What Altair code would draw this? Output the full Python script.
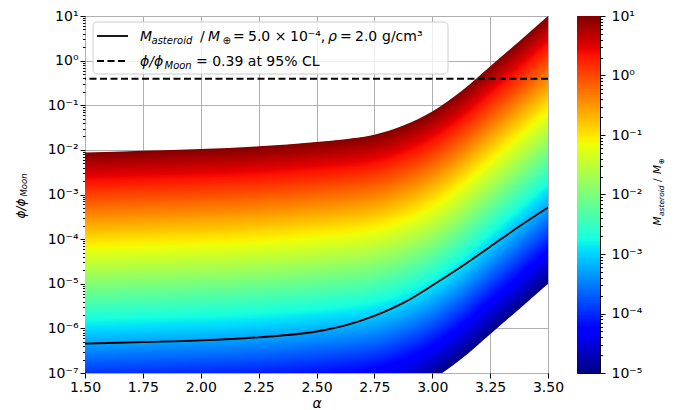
import altair as alt
import numpy as np
import pandas as pd

FONT = "DejaVu Sans"

# ---- values ----
alpha = [1.5, 1.75, 2.0, 2.25, 2.5, 2.625, 2.75, 2.875, 3.0, 3.125, 3.25, 3.375, 3.5]
# upper edge of the band (M_asteroid = 10 M_earth)
phi_top = [8.71e-3, 9.55e-3, 1.047e-2, 1.20e-2, 1.51e-2, 1.74e-2, 2.19e-2, 3.50e-2,
           7.2e-2, 0.205, 0.741, 2.69, 10.0]
# solid curve, M_asteroid = 5e-4 M_earth, rho = 2 g/cm^3
phi_line = [4.57e-7, 4.90e-7, 5.37e-7, 6.31e-7, 8.51e-7, 1.17e-6, 1.91e-6, 3.72e-6,
            9.12e-6, 2.40e-5, 6.76e-5, 1.91e-4, 5.13e-4]
mass_range = [1e-5, 10.0]
phi_limit = 0.39
x_ticks = [1.5, 1.75, 2.0, 2.25, 2.5, 2.75, 3.0, 3.25, 3.5]
y_exp = [-7, 1]
cb_exp = [-5, 1]

# jet colormap stops
jet_t = [0, 0.11, 0.125, 0.34, 0.35, 0.375, 0.64, 0.65, 0.66, 0.89, 0.91, 1.0]
jet_c = ["#000080", "#0000ff", "#0000ff", "#00dbff", "#00e5f7", "#15ffe2",
         "#eeff08", "#f7f500", "#ffec00", "#ff1300", "#e80000", "#800000"]

# ---- derived tables ----
lo, hi = np.log10(mass_range)
N = 160
edges = np.linspace(lo, hi, N + 1)
step = (hi - lo) / N
rows = []
for k in range(N):
    upper = min(edges[k + 1] + 0.6 * step, hi)
    for a, t in zip(alpha, phi_top):
        rows.append({"alpha": a, "lvl": k, "logm": (edges[k] + edges[k + 1]) / 2,
                     "y": t * 10 ** (edges[k] - hi), "y2": t * 10 ** (upper - hi)})
band_df = pd.DataFrame(rows)
line_df = pd.DataFrame({"alpha": alpha, "phi": phi_line})

NC = 240
ce = np.linspace(lo, hi, NC + 1)
cstep = (hi - lo) / NC
cb_df = pd.DataFrame({"y": 10 ** ce[:-1],
                      "y2": 10 ** np.minimum(ce[1:] + 0.6 * cstep, hi),
                      "logm": (ce[:-1] + ce[1:]) / 2})

one = pd.DataFrame({"k": [0]})

cscale = alt.Scale(domain=[lo + t * (hi - lo) for t in jet_t], range=jet_c, interpolate="rgb")

MINOR = "abs(log(datum.value)/LN10 - round(log(datum.value)/LN10)) > 0.01"
SUP = {"-": "⁻", "0": "⁰", "1": "¹", "2": "²", "3": "³", "4": "⁴",
       "5": "⁵", "6": "⁶", "7": "⁷", "8": "⁸", "9": "⁹"}


def log_values(e0, e1):
    return [m * 10.0 ** e for e in range(e0, e1) for m in range(1, 10)] + [10.0 ** e1]


def log_label_expr(e0, e1):
    labs = ["10" + "".join(SUP[c] for c in str(e)) for e in range(e0, e1 + 1)]
    arr = "[" + ",".join("'" + l + "'" for l in labs) + "]"
    return f"{MINOR} ? '' : {arr}[round(log(datum.value)/LN10) - ({e0})]"


def txt(s, x, y, size=14, italic=False, angle=0):
    return alt.Chart(one).mark_text(
        text=s, align="left", baseline="alphabetic", angle=angle, fontSize=size,
        fontStyle="italic" if italic else "normal", font=FONT, color="black"
    ).encode(x=alt.value(x), y=alt.value(y))


W, H = 463, 357
CBW = 23

xscale = alt.Scale(domain=[1.5, 3.5], nice=False, zero=False)
yscale = alt.Scale(type="log", domain=[10.0 ** y_exp[0], 10.0 ** y_exp[1]], nice=False)

xaxis = alt.Axis(values=x_ticks, format=".2f", tickSize=5, labelPadding=2, labelFlush=False,
                 title="α", titleFontStyle="italic", titleFontWeight="normal", titleFontSize=14,
                 titlePadding=2, grid=True)
yaxis = alt.Axis(values=log_values(*y_exp), labelExpr=log_label_expr(*y_exp), title=None,
                 tickSize={"condition": {"test": MINOR, "value": 2.5}, "value": 5},
                 gridOpacity={"condition": {"test": MINOR, "value": 0}, "value": 1},
                 labelPadding=2, labelFlush=False, grid=True)

band = alt.Chart(band_df).mark_area(interpolate="monotone", clip=True).encode(
    x=alt.X("alpha:Q", scale=xscale, axis=xaxis),
    y=alt.Y("y:Q", scale=yscale, axis=yaxis, stack=None),
    y2="y2:Q",
    color=alt.Color("logm:Q", scale=cscale, legend=None),
    detail="lvl:O",
)

curve = alt.Chart(line_df).mark_line(color="black", strokeWidth=1.8, interpolate="monotone",
                                     clip=True).encode(x="alpha:Q", y="phi:Q")

limit = alt.Chart(one).mark_rule(color="black", strokeWidth=2, strokeDash=[7, 3.5]).encode(
    y=alt.datum(phi_limit))

# legend (inside the plot, upper left)
leg_box = alt.Chart(one).mark_rect(fill="white", fillOpacity=0.8, stroke="#cccccc",
                                   strokeWidth=1, cornerRadius=4).encode(
    x=alt.value(8), x2=alt.value(363), y=alt.value(6), y2=alt.value(58))
leg_solid = alt.Chart(one).mark_rule(color="black", strokeWidth=1.8).encode(
    x=alt.value(12), x2=alt.value(43), y=alt.value(20))
leg_dash = alt.Chart(one).mark_rule(color="black", strokeWidth=2, strokeDash=[7, 3.5]).encode(
    x=alt.value(12), x2=alt.value(43), y=alt.value(45))

legend_texts = [
    txt("M", 55, 25, italic=True),
    txt("asteroid", 66.5, 28, size=10, italic=True),
    txt("/", 115, 25),
    txt("M", 123, 25, italic=True),
    txt("⊕", 137.5, 28, size=10),
    txt("=", 148, 25),
    txt("5.0 ×", 163, 25),
    txt("10⁻⁴,", 205, 25),
    txt("ρ", 243, 25, italic=True),
    txt("=", 255, 25),
    txt("2.0", 270, 25),
    txt("g/cm³", 297, 25),
    txt("ϕ/ϕ", 55, 50, italic=True),
    txt("Moon", 79.5, 52.5, size=10, italic=True),
    txt("= 0.39 at 95% CL", 111, 50),
]

ytitle = [
    txt("ϕ/ϕ", -60, 202.5, size=12, italic=True, angle=270),
    txt("Moon", -58, 180.5, size=8.5, italic=True, angle=270),
]

main = alt.layer(band, curve, limit, leg_box, leg_solid, leg_dash, *legend_texts, *ytitle).properties(
    width=W, height=H)

cbaxis = alt.Axis(orient="right", values=log_values(*cb_exp), labelExpr=log_label_expr(*cb_exp),
                  title=None, grid=False, labelPadding=6, labelFlush=False,
                  tickSize={"condition": {"test": MINOR, "value": 2.5}, "value": 5})

cbar = alt.Chart(cb_df).mark_rect().encode(
    x=alt.value(0), x2=alt.value(CBW),
    y=alt.Y("y:Q", scale=alt.Scale(type="log", domain=mass_range, nice=False), axis=cbaxis),
    y2="y2:Q",
    color=alt.Color("logm:Q", scale=cscale, legend=None),
)

cb_title = [
    txt("M", 84, 209.5, size=10.5, italic=True, angle=270),
    txt("asteroid", 86.5, 200, size=7.5, italic=True, angle=270),
    txt("/", 84, 166, size=10.5, angle=270),
    txt("M", 84, 158, size=10.5, italic=True, angle=270),
    txt("⊕", 86.5, 148.5, size=7.5, angle=270),
]

colorbar = alt.layer(cbar, *cb_title).properties(width=CBW, height=H)

chart = alt.hconcat(main, colorbar, spacing=29, bounds="flush").properties(
    padding={"left": 6, "top": 0, "right": 5, "bottom": 0}
).configure(font=FONT).configure_view(stroke="black", strokeWidth=1).configure_axis(
    labelFont=FONT, labelFontSize=14, labelColor="black", tickColor="black", domain=False,
    gridColor="#b0b0b0", gridWidth=1, titleFont=FONT, titleColor="black"
)

chart.save("out.html", embed_options={"renderer": "svg", "actions": False})
